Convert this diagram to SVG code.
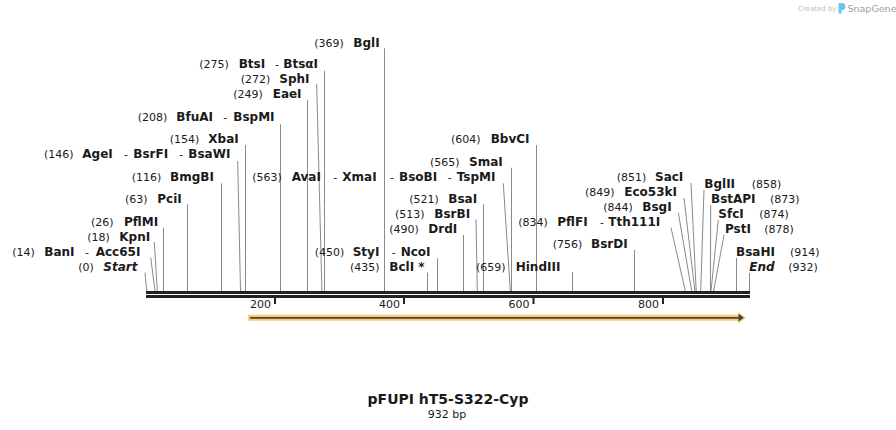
<svg xmlns="http://www.w3.org/2000/svg" width="896" height="430" viewBox="0 0 896 430">
<style>
.n{font-family:"DejaVu Sans",Verdana,sans-serif;font-size:11px;fill:#1a1a1a}
.e{font-family:"DejaVu Sans",Verdana,sans-serif;font-size:12px;font-weight:bold;fill:#1a1a1a}
.i{font-style:italic}
.c{stroke:#8a8a8a;stroke-width:1;fill:none}
.bb{fill:#222}
.tk{fill:#222}
</style>
<rect width="896" height="430" fill="#fff"/>
<g id="logo">
<text x="798" y="10.5" style="font-family:'DejaVu Sans',sans-serif;font-size:7px;fill:#bdbdbd">Created by</text>
<path d="M838.5,3 h3.5 a3.5,3.5 0 0 1 0,7 h-0.5 v3.5 h-3 z" fill="#6cc4ef"/>
<text x="847.5" y="11.5" style="font-family:'DejaVu Sans',sans-serif;font-size:9.5px;fill:#a0a0a0">SnapGene</text>
</g>
<g id="connectors">
<path class="c" d="M145,272.5 L146.7,291"/>
<path class="c" d="M150.7,257.5 L155,291"/>
<path class="c" d="M154.3,242 L157.3,291"/>
<path class="c" d="M163.5,227.7 V291"/>
<path class="c" d="M187.5,204.3 V291"/>
<path class="c" d="M221.5,183.3 V291"/>
<path class="c" d="M237.7,161 L240.5,291"/>
<path class="c" d="M245.5,145 V291"/>
<path class="c" d="M280.5,124.3 V291"/>
<path class="c" d="M307.5,100 V291"/>
<path class="c" d="M316.7,84 L321.9,291"/>
<path class="c" d="M324.5,70.7 V291"/>
<path class="c" d="M384.5,48.3 V291"/>
<path class="c" d="M503.3,183.3 L510.3,291"/>
<path class="c" d="M511.5,167.7 V291"/>
<path class="c" d="M536.5,145 V291"/>
<path class="c" d="M483.5,204.3 V291"/>
<path class="c" d="M476,219.3 L477.3,291"/>
<path class="c" d="M463.5,235 V291"/>
<path class="c" d="M437.5,258.3 V291"/>
<path class="c" d="M427.5,272.7 V291"/>
<path class="c" d="M572.5,272 V291"/>
<path class="c" d="M634.5,250 V291"/>
<path class="c" d="M671,227.7 L685.3,291"/>
<path class="c" d="M678.3,212.7 L691.7,291"/>
<path class="c" d="M684,198 L694.9,291"/>
<path class="c" d="M691,183 L696.2,291"/>
<path class="c" d="M704,190 L700.7,291"/>
<path class="c" d="M710.7,205 L710.4,291"/>
<path class="c" d="M718.3,220 L711,291"/>
<path class="c" d="M724,235 L713.6,291"/>
<path class="c" d="M736.5,258 V291"/>
<path class="c" d="M749.5,273 V291"/>
</g>
<g id="backbone">
<rect class="bb" x="146" y="291" width="604" height="3"/>
<rect class="bb" x="146" y="295" width="604" height="3"/>
<rect class="tk" x="274" y="298" width="2" height="6"/>
<rect class="tk" x="403" y="298" width="2" height="6"/>
<rect class="tk" x="532.5" y="298" width="2" height="6"/>
<rect class="tk" x="662" y="298" width="2" height="6"/>
<text class="n" x="271" y="307.5" text-anchor="end">200</text>
<text class="n" x="400" y="307.5" text-anchor="end">400</text>
<text class="n" x="529.5" y="307.5" text-anchor="end">600</text>
<text class="n" x="659" y="307.5" text-anchor="end">800</text>
</g>
<g id="feature">
<path d="M248,314.7 H738 V312 L746,317.8 L738,323.5 V320.7 H248 Z" fill="#f9cb76"/>
<path d="M250,317 H738.5 V313.8 L743.8,317.8 L738.5,321.8 V318.7 H250 Z" fill="#4a4437"/>
</g>
<g id="Start"><text class="n" x="78.3" y="271">(0)</text><text class="e i" x="103.3" y="271">Start</text></g>
<g id="BanI"><text class="n" x="12.3" y="256">(14)</text><text class="e" x="44.3" y="256">BanI</text><text class="n" x="85" y="256">-</text><text class="e" x="95.7" y="256">Acc65I</text></g>
<g id="KpnI"><text class="n" x="87.3" y="241">(18)</text><text class="e" x="119.3" y="241">KpnI</text></g>
<g id="PflMI"><text class="n" x="91" y="226">(26)</text><text class="e" x="124" y="226">PflMI</text></g>
<g id="PciI"><text class="n" x="125" y="203">(63)</text><text class="e" x="157.3" y="203">PciI</text></g>
<g id="BmgBI"><text class="n" x="131.7" y="181">(116)</text><text class="e" x="170" y="181">BmgBI</text></g>
<g id="AgeI"><text class="n" x="44" y="158.3">(146)</text><text class="e" x="82.3" y="158.3">AgeI</text><text class="n" x="124" y="158.3">-</text><text class="e" x="133.3" y="158.3">BsrFI</text><text class="n" x="179.3" y="158.3">-</text><text class="e" x="188.3" y="158.3">BsaWI</text></g>
<g id="XbaI"><text class="n" x="169.7" y="143">(154)</text><text class="e" x="208.3" y="143">XbaI</text></g>
<g id="BfuAI"><text class="n" x="137.7" y="120.5">(208)</text><text class="e" x="176.3" y="120.5">BfuAI</text><text class="n" x="223.3" y="120.5">-</text><text class="e" x="233.3" y="120.5">BspMI</text></g>
<g id="EaeI"><text class="n" x="233.3" y="97.5">(249)</text><text class="e" x="272.7" y="97.5">EaeI</text></g>
<g id="SphI"><text class="n" x="240.7" y="82.5">(272)</text><text class="e" x="279.3" y="82.5">SphI</text></g>
<g id="BtsI"><text class="n" x="199.3" y="67.5">(275)</text><text class="e" x="238.7" y="67.5">BtsI</text><text class="n" x="275" y="67.5">-</text><text class="e" x="283.3" y="67.5">BtsαI</text></g>
<g id="BglI"><text class="n" x="314.3" y="46.5">(369)</text><text class="e" x="353.3" y="46.5">BglI</text></g>
<g id="AvaI"><text class="n" x="252.3" y="181">(563)</text><text class="e" x="291.7" y="181">AvaI</text><text class="n" x="333.3" y="181">-</text><text class="e" x="342.3" y="181">XmaI</text><text class="n" x="390" y="181">-</text><text class="e" x="399" y="181">BsoBI</text><text class="n" x="447.7" y="181">-</text><text class="e" x="456.7" y="181">TspMI</text></g>
<g id="SmaI"><text class="n" x="430" y="166">(565)</text><text class="e" x="469" y="166">SmaI</text></g>
<g id="BbvCI"><text class="n" x="451" y="143">(604)</text><text class="e" x="490.7" y="143">BbvCI</text></g>
<g id="BsaI"><text class="n" x="409.3" y="203">(521)</text><text class="e" x="448.3" y="203">BsaI</text></g>
<g id="BsrBI"><text class="n" x="395" y="217.7">(513)</text><text class="e" x="434.3" y="217.7">BsrBI</text></g>
<g id="DrdI"><text class="n" x="389.3" y="232.7">(490)</text><text class="e" x="428.3" y="232.7">DrdI</text></g>
<g id="StyI"><text class="n" x="314.7" y="256">(450)</text><text class="e" x="352.7" y="256">StyI</text><text class="n" x="391.7" y="256">-</text><text class="e" x="400.7" y="256">NcoI</text></g>
<g id="BclI"><text class="n" x="350" y="271">(435)</text><text class="e" x="389.3" y="271">BclI *</text></g>
<g id="HindIII"><text class="n" x="476" y="271">(659)</text><text class="e" x="515.7" y="271">HindIII</text></g>
<g id="BsrDI"><text class="n" x="552.7" y="248">(756)</text><text class="e" x="591" y="248">BsrDI</text></g>
<g id="PflFI"><text class="n" x="518.3" y="226">(834)</text><text class="e" x="557.3" y="226">PflFI</text><text class="n" x="600" y="226">-</text><text class="e" x="608.3" y="226">Tth111I</text></g>
<g id="BsgI"><text class="n" x="603.3" y="211">(844)</text><text class="e" x="642.3" y="211">BsgI</text></g>
<g id="Eco53kI"><text class="n" x="585" y="196">(849)</text><text class="e" x="624.3" y="196">Eco53kI</text></g>
<g id="SacI"><text class="n" x="616.7" y="181">(851)</text><text class="e" x="655" y="181">SacI</text></g>
<g id="BglII"><text class="e" x="704.3" y="188">BglII</text><text class="n" x="751.7" y="188">(858)</text></g>
<g id="BstAPI"><text class="e" x="711" y="203">BstAPI</text><text class="n" x="770" y="203">(873)</text></g>
<g id="SfcI"><text class="e" x="718.3" y="218">SfcI</text><text class="n" x="759.3" y="218">(874)</text></g>
<g id="PstI"><text class="e" x="725" y="233">PstI</text><text class="n" x="764.3" y="233">(878)</text></g>
<g id="BsaHI"><text class="e" x="736" y="256">BsaHI</text><text class="n" x="790" y="256">(914)</text></g>
<g id="End"><text class="e i" x="749.3" y="271">End</text><text class="n" x="788.3" y="271">(932)</text></g>
<g id="title">
<text x="448" y="404" text-anchor="middle" style="font-family:'DejaVu Sans',Verdana,sans-serif;font-size:14px;font-weight:bold;fill:#1a1a1a">pFUPI hT5-S322-Cyp</text>
<text x="447" y="417.5" text-anchor="middle" class="n">932 bp</text>
</g>
</svg>
